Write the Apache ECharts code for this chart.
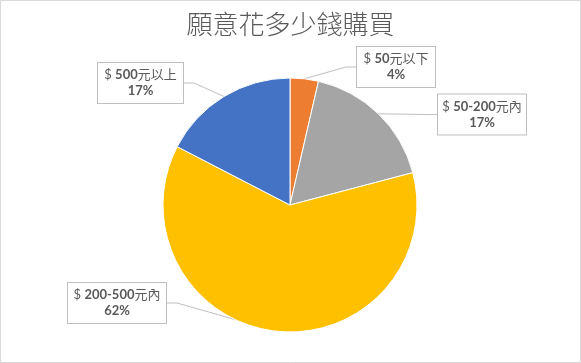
<!DOCTYPE html>
<html><head><meta charset="utf-8">
<script src="https://cdn.jsdelivr.net/npm/echarts@6/dist/echarts.min.js"></script>
<style>html,body{margin:0;padding:0;background:#fff}#c{width:581px;height:363px}</style>
</head><body><div id="c"></div>
<script>
const title = '願意花多少錢購買';
const prefixes = ['$ ', '$ ', '$ ', '$ '];
const amounts = ['50', '50-200', '200-500', '500'];
const suffixes = ['元以下', '元內', '元內', '元以上'];
const values = [3.6, 17.3, 61.7, 17.4];
const colors = ['#ED7D31', '#A5A5A5', '#FFC000', '#4472C4'];

const labelBoxes = [
  {cx: 396, cy: 67, w: 80},
  {cx: 482, cy: 114.5, w: 90},
  {cx: 117, cy: 303, w: 100},
  {cx: 140.5, cy: 83, w: 87}
];

const font = 'Lato, "Noto Sans CJK TC", sans-serif';
const chart = echarts.init(document.getElementById('c'), null, {renderer: 'canvas'});
chart.setOption({
  animation: false,
  backgroundColor: '#fff',
  title: {
    text: title, left: 'center', top: 6,
    textStyle: {fontSize: 26, fontWeight: 300, color: '#595959', fontFamily: '"Noto Sans CJK TC", sans-serif'}
  },
  graphic: [{type: 'rect', shape: {x: 0.5, y: 0.5, width: 580, height: 362}, style: {fill: 'none', stroke: '#d9d9d9', lineWidth: 1}, z: 100}],
  series: [{
    type: 'pie',
    center: [290, 205],
    radius: 127,
    startAngle: 90,
    clockwise: true,
    itemStyle: {borderColor: '#fff', borderWidth: 1},
    data: values.map((v, i) => ({
      value: v,
      name: amounts[i],
      itemStyle: {color: colors[i]},
      label: {width: labelBoxes[i].w - 10}
    })),
    label: {
      show: true,
      position: 'outside',
      formatter: p => '{n|' + prefixes[p.dataIndex] + '}{b|' + amounts[p.dataIndex] + '}{n|' + suffixes[p.dataIndex] + '}\n{b|' + Math.round(p.percent) + '%}',
      backgroundColor: '#fff',
      borderColor: '#BFBFBF',
      borderWidth: 1,
      padding: [4, 4],
      align: 'center',
      overflow: 'none',
      lineHeight: 16,
      color: '#595959',
      rich: {
        n: {fontSize: 13, color: '#595959', fontFamily: font, lineHeight: 16},
        b: {fontSize: 13, fontWeight: 'bold', color: '#595959', fontFamily: font, lineHeight: 16}
      }
    },
    labelLine: {show: true, length: 10, length2: 10, lineStyle: {color: '#BFBFBF', width: 1}},
    labelLayout: p => {
      const b = labelBoxes[p.dataIndex];
      return {x: b.cx, y: b.cy, align: 'center', verticalAlign: 'middle'};
    }
  }]
});
</script></body></html>
